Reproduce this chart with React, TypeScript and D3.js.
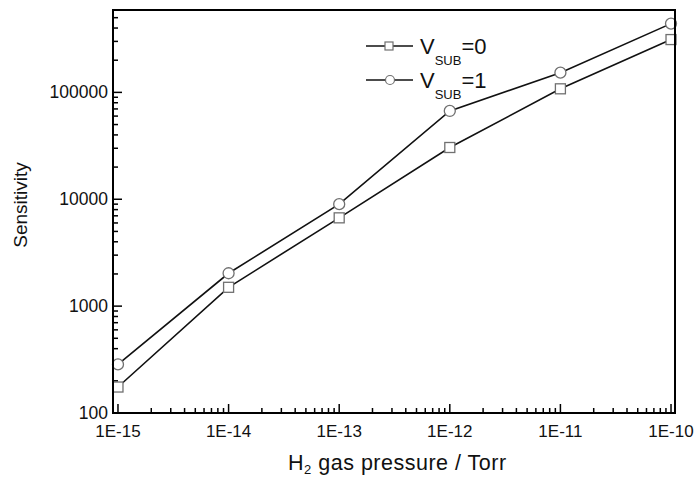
import React from 'react';
import * as d3 from 'd3';

// pressures (Torr) and sensitivity for the two substrate voltages
const pressures = [1e-15, 1e-14, 1e-13, 1e-12, 1e-11, 1e-10];
const sens0 = [175, 1500, 6700, 30500, 108000, 312000];
const sens1 = [285, 2030, 9000, 67000, 153000, 440000];
const xTickLabels = ['1E-15', '1E-14', '1E-13', '1E-12', '1E-11', '1E-10'];
const yTicks = [100, 1000, 10000, 100000];

const width = 694;
const height = 478;
const margin = { left: 113, right: 19, top: 10, bottom: 65 };

const App: React.FC = () => {
  const innerW = width - margin.left - margin.right;
  const innerH = height - margin.top - margin.bottom;

  const x = d3.scaleLog().domain([Math.pow(10, -15.045), Math.pow(10, -9.964)]).range([0, innerW]);
  const y = d3.scaleLog().domain([100, 5.9e5]).range([innerH, 0]);

  const line = d3.line<number>()
    .x((d, i) => x(pressures[i]))
    .y(d => y(d));

  // minor ticks between decades
  const xMinor: number[] = [];
  for (let e = -16; e <= -10; e++) {
    for (let m = 2; m <= 9; m++) {
      const v = m * Math.pow(10, e);
      if (v > x.domain()[0] && v < x.domain()[1]) xMinor.push(v);
    }
  }
  const yMinor: number[] = [];
  for (let e = 2; e <= 5; e++) {
    for (let m = 2; m <= 9; m++) {
      const v = m * Math.pow(10, e);
      if (v < y.domain()[1]) yMinor.push(v);
    }
  }

  const font = '"Liberation Sans", Arial, sans-serif';
  const markerStroke = '#707070';

  return (
    <svg width={width} height={height} style={{ position: 'absolute', left: 0, top: 0, background: '#fff' }}>
      <g transform={`translate(${margin.left},${margin.top})`} fontFamily={font}>
        {/* ticks (inward) */}
        {xMinor.map((v, i) => (
          <line key={'xm' + i} x1={x(v)} x2={x(v)} y1={innerH} y2={innerH - 5} stroke="#000" strokeWidth={1.5} />
        ))}
        {pressures.map((v, i) => (
          <line key={'xM' + i} x1={x(v)} x2={x(v)} y1={innerH} y2={innerH - 9} stroke="#000" strokeWidth={1.5} />
        ))}
        {yMinor.map((v, i) => (
          <line key={'ym' + i} x1={0} x2={5} y1={y(v)} y2={y(v)} stroke="#000" strokeWidth={1.5} />
        ))}
        {yTicks.map((v, i) => (
          <line key={'yM' + i} x1={0} x2={9} y1={y(v)} y2={y(v)} stroke="#000" strokeWidth={1.5} />
        ))}

        {/* tick labels */}
        {pressures.map((v, i) => (
          <text key={'xl' + i} x={x(v)} y={innerH + 24} textAnchor="middle" fontSize={17} fill="#111">
            {xTickLabels[i]}
          </text>
        ))}
        {yTicks.map((v, i) => (
          <text key={'yl' + i} x={-5} y={y(v) + 6} textAnchor="end" fontSize={17.5} fill="#111">
            {d3.format('d')(v)}
          </text>
        ))}

        {/* series */}
        <path d={line(sens0) ?? ''} fill="none" stroke="#111" strokeWidth={1.6} />
        <path d={line(sens1) ?? ''} fill="none" stroke="#111" strokeWidth={1.6} />
        {sens0.map((v, i) => (
          <rect key={'s' + i} x={x(pressures[i]) - 5} y={y(v) - 5} width={10} height={10}
            fill="#fff" stroke={markerStroke} strokeWidth={1.3} />
        ))}
        {sens1.map((v, i) => (
          <circle key={'c' + i} cx={x(pressures[i])} cy={y(v)} r={5.5}
            fill="#fff" stroke={markerStroke} strokeWidth={1.3} />
        ))}

        {/* frame */}
        <rect x={0} y={0} width={innerW} height={innerH} fill="none" stroke="#000" strokeWidth={2} />

        {/* legend */}
        <g transform="translate(253,36)">
          <line x1={0} x2={47} y1={0} y2={0} stroke="#111" strokeWidth={1.6} />
          <rect x={19} y={-4} width={8} height={8} fill="#fff" stroke={markerStroke} strokeWidth={1.2} />
          <text x={54} y={8} fontSize={22} fill="#111">
            V<tspan fontSize={13} dy={11}>SUB</tspan><tspan dy={-11}>=0</tspan>
          </text>
          <line x1={0} x2={47} y1={34} y2={34} stroke="#111" strokeWidth={1.6} />
          <circle cx={24} cy={34} r={4.5} fill="#fff" stroke={markerStroke} strokeWidth={1.2} />
          <text x={54} y={42} fontSize={22} fill="#111">
            V<tspan fontSize={13} dy={11}>SUB</tspan><tspan dy={-11}>=1</tspan>
          </text>
        </g>

        {/* axis titles */}
        <text x={175} y={innerH + 57} fontSize={21.5} letterSpacing={0.5} fill="#111">
          H<tspan fontSize={13} dy={4}>2</tspan><tspan dy={-4}> gas pressure / Torr</tspan>
        </text>
        <text transform={`translate(${-86},${195}) rotate(-90)`} textAnchor="middle" fontSize={19} fill="#111">
          Sensitivity
        </text>
      </g>
    </svg>
  );
};

export default App;
